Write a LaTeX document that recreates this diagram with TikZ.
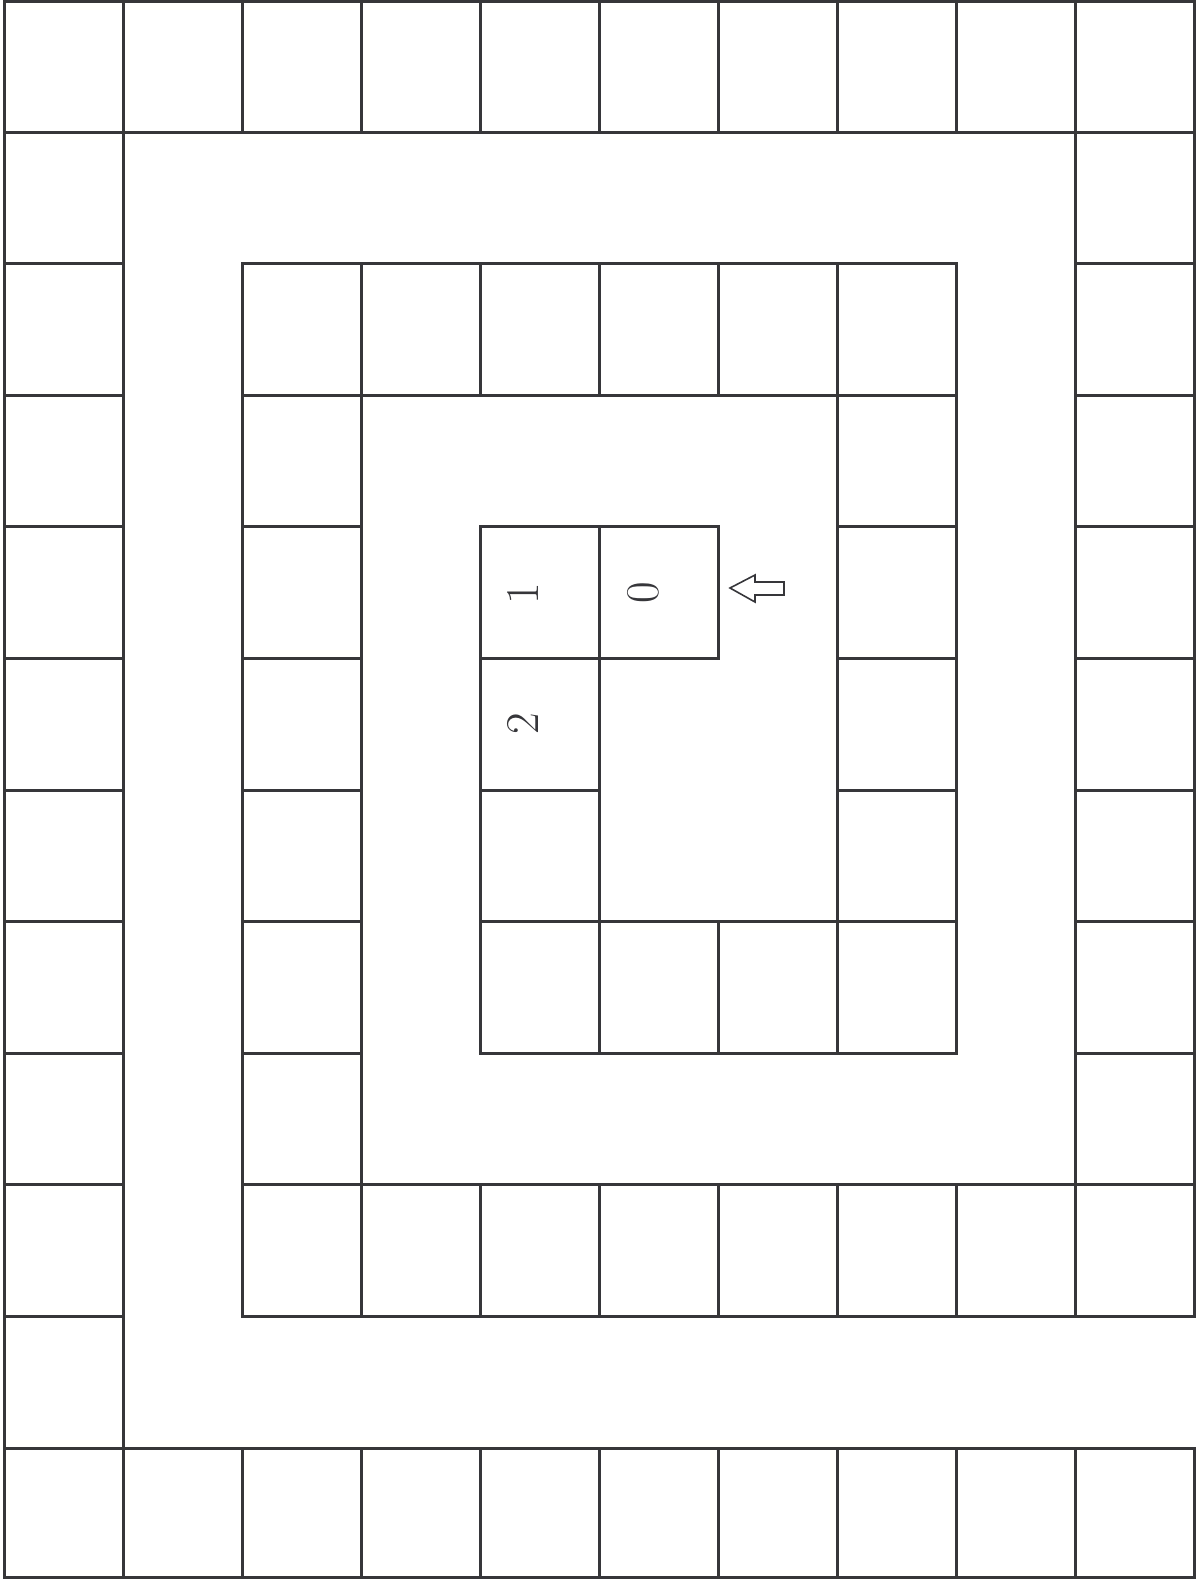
\documentclass[tikz,border=0pt]{standalone}
\begin{document}
\begin{tikzpicture}[x=1pt,y=-1pt,
  gridline/.style={draw=lineclr,line width=3pt},
  digit/.style={rotate=90,inner sep=0pt,font=\fontsize{47}{47}\selectfont,text=lineclr},
  hollowarrow/.style={draw=lineclr,line width=1.6pt,line join=miter}]
\definecolor{lineclr}{HTML}{36363A}
\useasboundingbox (0,0) rectangle (1197,1579);
\newcommand\gx[1]{4+119*#1}
\newcommand\gy[1]{max(2,min(1577,132+131.6*(#1-1)))}
\newcommand\cellbox[2]{\draw[gridline] ({\gx{#1}},{\gy{#2}}) rectangle ({\gx{(#1+1)}},{\gy{(#2+1)}});}
% outer ring
\foreach \c in {0,...,9}{\cellbox{\c}{0}\cellbox{\c}{11}}
\foreach \r in {1,...,10}{\cellbox{0}{\r}}
\foreach \r in {1,...,8}{\cellbox{9}{\r}}
\foreach \c in {2,...,9}{\cellbox{\c}{9}}
\foreach \r in {3,...,8}{\cellbox{2}{\r}}
\foreach \c in {2,...,7}{\cellbox{\c}{2}}
\foreach \r in {3,...,6}{\cellbox{7}{\r}}
\foreach \c in {4,...,7}{\cellbox{\c}{7}}
\foreach \r in {4,...,6}{\cellbox{4}{\r}}
\cellbox{5}{4}
% digits
\node[digit] (d0) at (643,593) {0};
\node[digit] (d1) at (523,594) {1};
\node[digit] (d2) at (523,724) {2};
% hollow arrow
\draw[hollowarrow] (730,588) -- (755,575) -- (755,582) -- (784,582) -- (784,595) -- (755,595) -- (755,602) -- cycle;
\end{tikzpicture}
\end{document}
